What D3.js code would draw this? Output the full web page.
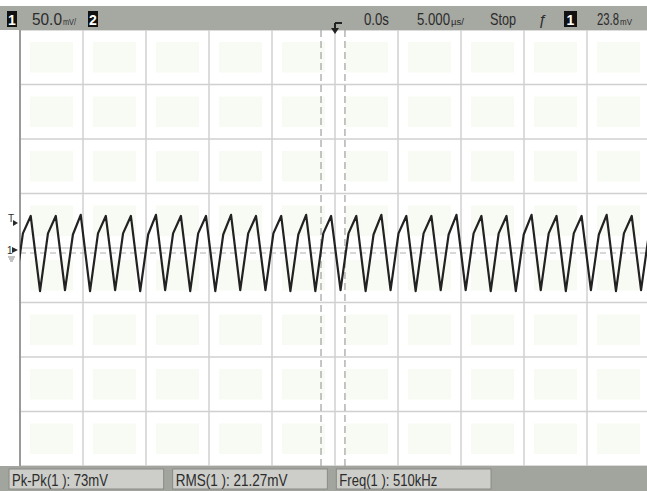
<!DOCTYPE html>
<html>
<head>
<meta charset="utf-8">
<script src="https://cdn.jsdelivr.net/npm/d3@7"></script>
<style>
  body { margin: 0; background: #fff; }
  svg { display: block; }
  text { font-family: "Liberation Sans", Arial, sans-serif; fill: #2c2c2c; }
</style>
</head>
<body>
<div id="wrapper"></div>
<script>
// channel 1 trace: times in µs, levels in mV
const troughTimes = [-25.40, -23.41, -21.43, -19.44, -17.45, -15.46, -13.48, -11.49, -9.50, -7.52,
  -5.52, -3.54, -1.56, 0.44, 2.43, 4.41, 6.40, 8.39, 10.37, 12.36,
  14.35, 16.33, 18.32, 20.31, 22.30, 24.29]
const kneeTimes = [-24.77, -22.78, -20.80, -18.81, -16.82, -14.83, -12.85, -10.86, -8.87, -6.89,
  -4.89, -2.91, -0.93, 1.07, 3.06, 5.04, 7.03, 9.02, 11.00, 12.99,
  14.98, 16.96, 18.95, 20.94, 22.93, 24.92]
const peakTimes = [-24.15, -22.16, -20.18, -18.19, -16.20, -14.21, -12.23, -10.24, -8.25, -6.27,
  -4.27, -2.29, -0.31, 1.69, 3.68, 5.66, 7.65, 9.64, 11.62, 13.61,
  15.60, 17.58, 19.57, 21.56, 23.55, 25.54]
const troughLevels = [-34, -35, -34, -35, -34, -35, -34, -35, -35, -34,
  -34, -35, -35, -34, -35, -34, -35, -34, -34, -35,
  -35, -34, -35, -34, -35, -34]
const kneeLevels = [18, 18, 17, 18, 18, 17, 18, 18, 17, 18,
  18, 17, 18, 18, 17, 18, 18, 17, 18, 18,
  17, 18, 18, 17, 18, 18]
const peakLevels = [34, 34, 35, 34, 34, 35, 34, 34, 35, 34,
  34, 35, 34, 34, 35, 34, 34, 35, 34, 34,
  35, 34, 34, 35, 34, 34]

// screen settings
const timePerDiv = 5        // µs/div
const voltsPerDiv = 50      // mV/div
const ch1Offset = 4.6       // mV at screen centre
const triggerLevel = 23.8   // mV
const cursorTimes = [-1.11, 0.79]

const topLabels = {
  scale: "50.0", scaleUnit: "mV/",
  delay: "0.0s",
  timebase: "5.000", timebaseUnit: "µs/",
  mode: "Stop",
  level: "23.8", levelUnit: "mV",
}
const measurements = ["Pk-Pk(1 ): 73mV", "RMS(1 ): 21.27mV", "Freq(1 ): 510kHz"]

function drawChart() {

  const dimensions = {
    width: 647,
    height: 491,
    plot: { left: 20, right: 650, top: 30, bottom: 466 },
  }

  const svg = d3.select("#wrapper")
    .append("svg")
    .attr("width", dimensions.width)
    .attr("height", dimensions.height)

  svg.append("rect")
    .attr("width", dimensions.width)
    .attr("height", dimensions.height)
    .attr("fill", "#fff")

  const p = dimensions.plot

  // scales
  const xScale = d3.scaleLinear()
    .domain([-5 * timePerDiv, 5 * timePerDiv])
    .range([p.left, p.right])

  const yScale = d3.scaleLinear()
    .domain([ch1Offset - 4 * voltsPerDiv, ch1Offset + 4 * voltsPerDiv])
    .range([p.bottom, p.top])

  const xTicks = d3.range(-5, 6).map(d => d * timePerDiv)
  const yTicks = d3.range(-4, 5).map(d => ch1Offset + d * voltsPerDiv)

  // very faint green cell fill
  const cells = []
  xTicks.slice(0, -1).forEach(x => yTicks.slice(0, -1).forEach(y => cells.push([x, y])))
  svg.append("g")
    .selectAll("rect")
    .data(cells)
    .join("rect")
      .attr("x", d => xScale(d[0]) + 10)
      .attr("y", d => yScale(d[1] + voltsPerDiv) + 12)
      .attr("width", xScale(timePerDiv) - xScale(0) - 20)
      .attr("height", yScale(0) - yScale(voltsPerDiv) - 24)
      .attr("fill", "#f8fbf4")

  // grid
  const grid = svg.append("g")
    .attr("stroke", "#d0d0d0")
    .attr("stroke-width", 1.5)

  grid.selectAll(".vgrid")
    .data(xTicks)
    .join("line")
      .attr("class", "vgrid")
      .attr("x1", d => xScale(d))
      .attr("x2", d => xScale(d))
      .attr("y1", p.top)
      .attr("y2", p.bottom)

  grid.selectAll(".hgrid")
    .data(yTicks)
    .join("line")
      .attr("class", "hgrid")
      .attr("x1", p.left)
      .attr("x2", dimensions.width)
      .attr("y1", d => yScale(d))
      .attr("y2", d => yScale(d))

  // left border
  svg.append("line")
    .attr("x1", p.left).attr("x2", p.left)
    .attr("y1", p.top).attr("y2", p.bottom)
    .attr("stroke", "#9a9a9a")
    .attr("stroke-width", 2)

  // ground reference and cursors
  svg.append("line")
    .attr("x1", p.left).attr("x2", dimensions.width)
    .attr("y1", yScale(0)).attr("y2", yScale(0))
    .attr("stroke", "#b0b0b0")
    .attr("stroke-width", 1.2)
    .attr("stroke-dasharray", "6,4")

  svg.selectAll(".cursor")
    .data(cursorTimes)
    .join("line")
      .attr("class", "cursor")
      .attr("x1", d => xScale(d))
      .attr("x2", d => xScale(d))
      .attr("y1", p.top)
      .attr("y2", p.bottom)
      .attr("stroke", "#a0a0a0")
      .attr("stroke-width", 1.2)
      .attr("stroke-dasharray", "7,4")

  // trace
  const points = []
  troughTimes.forEach((t, i) => {
    points.push([t, troughLevels[i]])
    points.push([kneeTimes[i], kneeLevels[i]])
    points.push([peakTimes[i], peakLevels[i]])
  })

  svg.append("clipPath")
    .attr("id", "plotClip")
    .append("rect")
      .attr("x", p.left)
      .attr("y", p.top)
      .attr("width", dimensions.width - p.left)
      .attr("height", p.bottom - p.top)

  const line = d3.line()
    .x(d => xScale(d[0]))
    .y(d => yScale(d[1]))

  svg.append("path")
    .attr("clip-path", "url(#plotClip)")
    .attr("d", line(points))
    .attr("fill", "none")
    .attr("stroke", "#222")
    .attr("stroke-width", 2.2)
    .attr("stroke-linejoin", "round")

  // left markers
  const tY = yScale(triggerLevel) - 4
  svg.append("text").attr("x", 8).attr("y", tY - 1).attr("font-size", 10).text("T")
  svg.append("path")
    .attr("d", `M13,${tY - 3}L18,${tY}L13,${tY + 3}Z`)
    .attr("fill", "#2a2a2a")

  const gY = yScale(0) - 3
  svg.append("text").attr("x", 7).attr("y", gY + 4).attr("font-size", 10).text("1")
  svg.append("path")
    .attr("d", `M12,${gY - 3}L18,${gY}L12,${gY + 3}Z`)
    .attr("fill", "#2a2a2a")
  svg.append("path")
    .attr("d", `M8,${gY + 7}H15M9,${gY + 9}H14M10,${gY + 11}H13`)
    .attr("stroke", "#888")
    .attr("stroke-width", 1)

  // top status bar
  svg.append("rect")
    .attr("x", 0).attr("y", 6)
    .attr("width", dimensions.width).attr("height", p.top - 6)
    .attr("fill", "#a6a8a2")

  const badge = (x, w, text) => {
    svg.append("rect")
      .attr("x", x).attr("y", 11)
      .attr("width", w).attr("height", 16)
      .attr("fill", "#111")
    svg.append("text")
      .attr("x", x + w / 2).attr("y", 25)
      .attr("text-anchor", "middle")
      .attr("font-size", 14)
      .attr("font-weight", "bold")
      .style("fill", "#fff")
      .text(text)
  }

  // condensed label: squeeze the text horizontally to the width it has on screen
  const label = (parent, x, y, width, text, size = 16) => {
    const t = parent.append("text")
      .attr("font-size", size)
      .text(text)
    const natural = t.node().getComputedTextLength()
    t.attr("transform", `translate(${x},${y}) scale(${width / natural},1)`)
    return t
  }

  badge(7, 10, "1")
  label(svg, 32, 25, 30, topLabels.scale)
  label(svg, 63, 25, 13, topLabels.scaleUnit, 9)
  badge(88, 10, "2")

  // trigger position icon
  const x0 = xScale(0)
  svg.append("path")
    .attr("d", `M${x0},23H${x0 + 7}M${x0},23V29`)
    .attr("stroke", "#222").attr("stroke-width", 2).attr("fill", "none")
  svg.append("path")
    .attr("d", `M${x0 - 4},28H${x0 + 4}L${x0},34Z`)
    .attr("fill", "#222")

  label(svg, 364, 25, 25, topLabels.delay)
  label(svg, 417, 25, 33, topLabels.timebase)
  label(svg, 451, 25, 13, topLabels.timebaseUnit, 9)
  label(svg, 490, 25, 26, topLabels.mode)
  svg.append("text").attr("x", 538).attr("y", 25).attr("font-size", 15).attr("font-style", "italic").text("ƒ")
  badge(564, 13, "1")
  label(svg, 597, 25, 22, topLabels.level)
  label(svg, 620, 25, 12, topLabels.levelUnit, 9)

  // bottom measurement bar
  svg.append("rect")
    .attr("x", 0).attr("y", p.bottom)
    .attr("width", dimensions.width).attr("height", dimensions.height - p.bottom)
    .attr("fill", "#a2a49e")

  const boxX = d3.scaleBand()
    .domain(measurements)
    .range([9, 491])
    .paddingInner(0.055)

  const textWidths = [96, 112, 98]

  measurements.forEach((m, i) => {
    const g = svg.append("g")
      .attr("transform", `translate(${boxX(m)},${p.bottom + 3})`)
    g.append("rect")
      .attr("width", boxX.bandwidth())
      .attr("height", dimensions.height - p.bottom - 5)
      .attr("fill", "#cdcec9")
      .attr("stroke", "#8a8a86")
    label(g, 3, 17, textWidths[i], m)
  })
}

drawChart()
</script>
</body>
</html>
